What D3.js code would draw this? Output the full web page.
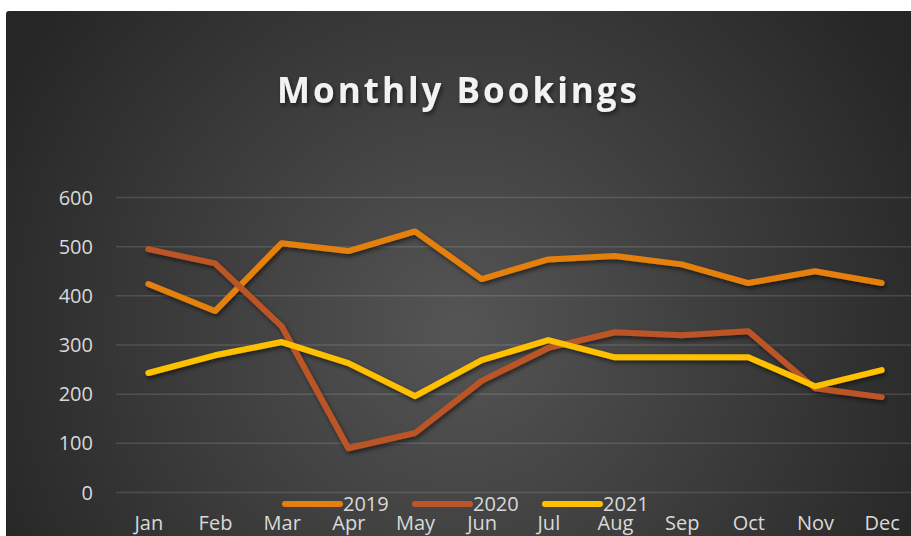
<!DOCTYPE html>
<html>
<head>
<meta charset="utf-8">
<script src="https://cdn.jsdelivr.net/npm/d3@7"></script>
<style>
  body { margin: 0; background: #ffffff; }
  svg { display: block; }
</style>
</head>
<body>
<div id="chart"></div>
<script>
// data
var months = ["Jan", "Feb", "Mar", "Apr", "May", "Jun", "Jul", "Aug", "Sep", "Oct", "Nov", "Dec"];
var years = ["2019", "2020", "2021"];
var bookings2019 = [423, 368, 506, 490, 530, 433, 473, 480, 463, 425, 449, 425];
var bookings2020 = [494, 465, 337, 89, 120, 226, 293, 325, 319, 327, 211, 193];
var bookings2021 = [242, 278, 305, 262, 195, 268, 309, 274, 274, 274, 215, 248];
var yTicks = [0, 100, 200, 300, 400, 500, 600];
var colors = ["#e5800f", "#bc5527", "#ffc000"];

var series = [bookings2019, bookings2020, bookings2021];

// sets chart bounds
var svgWidth = 911;
var svgHeight = 536;

var svg = d3.select("#chart")
  .append("svg")
  .attr("width", svgWidth)
  .attr("height", svgHeight);

var defs = svg.append("defs");

// background gradient, lighter in the middle
var grad = defs.append("radialGradient")
  .attr("id", "bg")
  .attr("gradientUnits", "userSpaceOnUse")
  .attr("cx", 460).attr("cy", 330).attr("r", 520);
grad.append("stop").attr("offset", "0%").attr("stop-color", "#555555");
grad.append("stop").attr("offset", "100%").attr("stop-color", "#262626");

// shadow for lines and title
var shadow = defs.append("filter")
  .attr("id", "shadow")
  .attr("x", "-10%").attr("y", "-10%")
  .attr("width", "120%").attr("height", "130%");
shadow.append("feDropShadow")
  .attr("dx", 1.5).attr("dy", 2.5)
  .attr("stdDeviation", 2)
  .attr("flood-color", "#000")
  .attr("flood-opacity", 0.55);

svg.append("rect")
  .attr("x", 6).attr("y", 11)
  .attr("width", svgWidth + 20).attr("height", svgHeight)
  .attr("rx", 3)
  .attr("fill", "url(#bg)");

// scales
var xScale = d3.scalePoint()
  .domain(months)
  .range([115, 915])
  .padding(0.5);

var yScale = d3.scaleLinear()
  .domain([0, 600])
  .range([492, 197]);

// y axis with gridlines
var yAxis = svg.append("g")
  .attr("transform", "translate(116,0)")
  .call(d3.axisLeft(yScale)
    .tickValues(yTicks)
    .tickSize(-(svgWidth - 116))
    .tickPadding(23));

yAxis.select(".domain").remove();
yAxis.selectAll(".tick line")
  .attr("stroke", "#ffffff")
  .attr("stroke-opacity", 0.13)
  .attr("stroke-width", 1.5);
yAxis.selectAll(".tick text")
  .attr("fill", "#d9d9d9")
  .attr("font-family", "Open Sans")
  .attr("font-size", "20px")
  .attr("dy", "0.35em");

// x axis labels
var xAxis = svg.append("g")
  .attr("transform", "translate(0,492)")
  .call(d3.axisBottom(xScale).tickSize(0).tickPadding(0));

xAxis.select(".domain").remove();
xAxis.selectAll(".tick text")
  .attr("fill", "#d9d9d9")
  .attr("font-family", "Open Sans")
  .attr("font-size", "20px")
  .attr("dy", 0)
  .attr("y", 38);

// lines
var line = d3.line()
  .x(function(d, i) { return xScale(months[i]); })
  .y(function(d) { return yScale(d); });

svg.append("g")
  .attr("filter", "url(#shadow)")
  .selectAll("path")
  .data(series)
  .enter()
  .append("path")
  .attr("d", line)
  .attr("fill", "none")
  .attr("stroke", function(d, i) { return colors[i]; })
  .attr("stroke-width", 6)
  .attr("stroke-linecap", "round")
  .attr("stroke-linejoin", "round");

// legend
var legend = svg.append("g")
  .attr("transform", "translate(283,504)");

var legendItems = legend.selectAll("g")
  .data(years)
  .enter()
  .append("g")
  .attr("transform", function(d, i) { return "translate(" + (i * 130) + ",0)"; });

legendItems.append("line")
  .attr("x1", 2).attr("x2", 57)
  .attr("y1", 0).attr("y2", 0)
  .attr("stroke", function(d, i) { return colors[i]; })
  .attr("stroke-width", 6)
  .attr("stroke-linecap", "round");

legendItems.append("text")
  .attr("x", 60)
  .attr("y", 7)
  .attr("fill", "#d9d9d9")
  .attr("font-family", "Open Sans")
  .attr("font-size", "20px")
  .text(function(d) { return d; });

// title
svg.append("text")
  .attr("x", 457)
  .attr("y", 103)
  .attr("text-anchor", "middle")
  .attr("fill", "#f2f2f2")
  .attr("font-family", "Open Sans")
  .attr("font-weight", "bold")
  .attr("font-size", "35px")
  .attr("textLength", 360)
  .attr("lengthAdjust", "spacing")
  .attr("filter", "url(#shadow)")
  .text("Monthly Bookings");
</script>
</body>
</html>
